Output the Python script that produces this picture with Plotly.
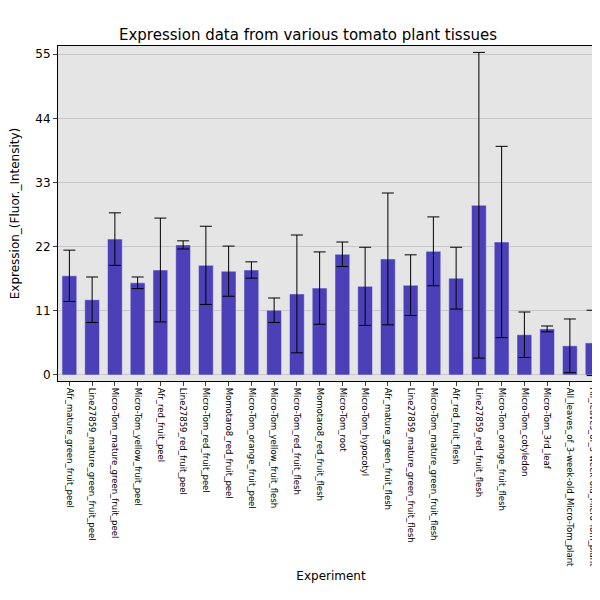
import plotly.graph_objects as go

experiments = [
    "Afr_mature_green_fruit_peel", "Line27859_mature_green_fruit_peel",
    "Micro-Tom_mature_green_fruit_peel", "Micro-Tom_yellow_fruit_peel",
    "Afr_red_fruit_peel", "Line27859_red_fruit_peel", "Micro-Tom_red_fruit_peel",
    "Momotaro8_red_fruit_peel", "Micro-Tom_orange_fruit_peel",
    "Micro-Tom_yellow_fruit_flesh", "Micro-Tom_red_fruit_flesh",
    "Momotaro8_red_fruit_flesh", "Micro-Tom_root", "Micro-Tom_hypocotyl",
    "Afr_mature_green_fruit_flesh", "Line27859_mature_green_fruit_flesh",
    "Micro-Tom_mature_green_fruit_flesh", "Afr_red_fruit_flesh",
    "Line27859_red_fruit_flesh", "Micro-Tom_orange_fruit_flesh",
    "Micro-Tom_cotyledon", "Micro-Tom_3rd_leaf",
    "All_leaves_of_3-week-old_Micro-Tom_plant",
    "All_leaves_of_5-week-old_Micro-Tom_plant",
]
expression = [17.0, 12.9, 23.3, 15.8, 18.0, 22.3, 18.8, 17.8, 18.0, 11.1, 13.9, 14.9,
              20.7, 15.2, 19.9, 15.4, 21.2, 16.6, 29.1, 22.8, 6.9, 7.9, 5.0, 5.5]
error = [4.4, 3.9, 4.5, 1.0, 8.9, 0.7, 6.7, 4.3, 1.4, 2.1, 10.1, 6.2,
         2.1, 6.7, 11.3, 5.2, 5.9, 5.3, 26.2, 16.4, 3.9, 0.5, 4.6, 5.6]
yticks = [0, 11, 22, 33, 44, 55]

fig = go.Figure(go.Bar(
    x=experiments, y=expression,
    marker=dict(color="#4b40b8"), width=0.65,
    error_y=dict(type="data", array=error, color="black", thickness=1, width=6),
))

fig.update_layout(
    width=600, height=600,
    title=dict(text="Expression data from various tomato plant tissues", x=0.5,
               xanchor="center", y=0.965, font=dict(size=15, color="black")),
    font=dict(family="DejaVu Sans", color="black"),
    paper_bgcolor="white", plot_bgcolor="#e5e5e5",
    margin=dict(l=50, r=4, t=38, b=227),
    showlegend=False,
)
fig.update_xaxes(title=dict(text="Experiment", font=dict(size=12), standoff=5),
                 automargin=False,
                 tickangle=90, tickfont=dict(size=8.5), showline=True, mirror=True,
                 linecolor="black", ticks="outside", ticklen=4)
fig.update_yaxes(title=dict(text="Expression_(Fluor._Intensity)", font=dict(size=12)),
                 automargin=False,
                 range=[-1.03, 56.4], tickvals=yticks, tickfont=dict(size=12),
                 gridcolor="#c8c8c8", zeroline=False, showline=True, mirror=True,
                 linecolor="black", ticks="outside", ticklen=4)

fig.write_html("out.html")
